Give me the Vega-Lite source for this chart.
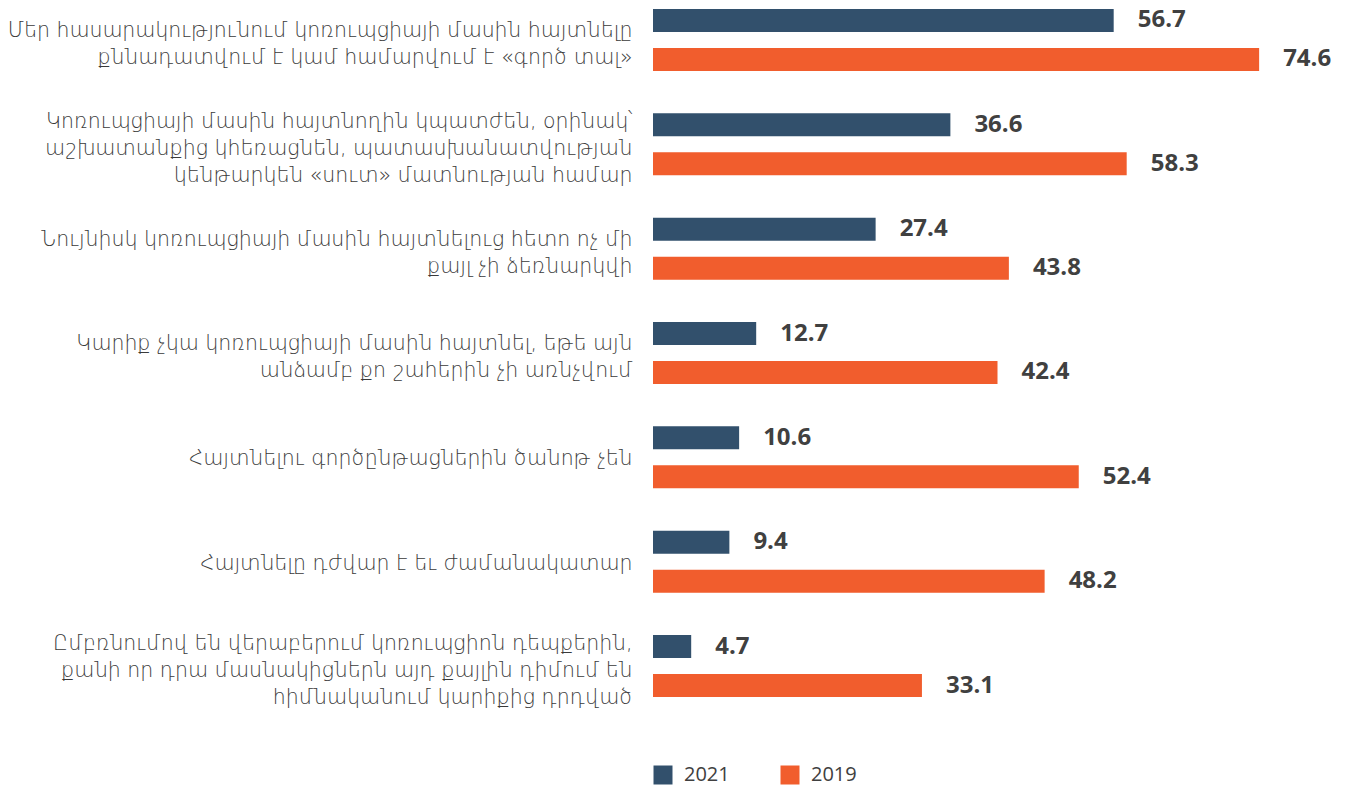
{
  "$schema": "https://vega.github.io/schema/vega-lite/v6.json",
  "autosize": {"type": "none"},
  "padding": {"left": 653, "top": 0, "right": 43, "bottom": 80},
  "width": 650,
  "height": 706,
  "background": "white",
  "config": {"view": {"stroke": null}},
  "data": {
    "values": [
      {"q": "Մեր հասարակությունում կոռուպցիայի մասին հայտնելը|քննադատվում է կամ համարվում է «գործ տալ»", "year": "2021", "v": 56.7},
      {"q": "Մեր հասարակությունում կոռուպցիայի մասին հայտնելը|քննադատվում է կամ համարվում է «գործ տալ»", "year": "2019", "v": 74.6},
      {"q": "Կոռուպցիայի մասին հայտնողին կպատժեն, օրինակ՝|աշխատանքից կհեռացնեն, պատասխանատվության|կենթարկեն «սուտ» մատնության համար", "year": "2021", "v": 36.6},
      {"q": "Կոռուպցիայի մասին հայտնողին կպատժեն, օրինակ՝|աշխատանքից կհեռացնեն, պատասխանատվության|կենթարկեն «սուտ» մատնության համար", "year": "2019", "v": 58.3},
      {"q": "Նույնիսկ կոռուպցիայի մասին հայտնելուց հետո ոչ մի|քայլ չի ձեռնարկվի", "year": "2021", "v": 27.4},
      {"q": "Նույնիսկ կոռուպցիայի մասին հայտնելուց հետո ոչ մի|քայլ չի ձեռնարկվի", "year": "2019", "v": 43.8},
      {"q": "Կարիք չկա կոռուպցիայի մասին հայտնել, եթե այն|անձամբ քո շահերին չի առնչվում", "year": "2021", "v": 12.7},
      {"q": "Կարիք չկա կոռուպցիայի մասին հայտնել, եթե այն|անձամբ քո շահերին չի առնչվում", "year": "2019", "v": 42.4},
      {"q": "Հայտնելու գործընթացներին ծանոթ չեն", "year": "2021", "v": 10.6},
      {"q": "Հայտնելու գործընթացներին ծանոթ չեն", "year": "2019", "v": 52.4},
      {"q": "Հայտնելը դժվար է եւ ժամանակատար", "year": "2021", "v": 9.4},
      {"q": "Հայտնելը դժվար է եւ ժամանակատար", "year": "2019", "v": 48.2},
      {"q": "Ըմբռնումով են վերաբերում կոռուպցիոն դեպքերին,|քանի որ դրա մասնակիցներն այդ քայլին դիմում են|հիմնականում կարիքից դրդված", "year": "2021", "v": 4.7},
      {"q": "Ըմբռնումով են վերաբերում կոռուպցիոն դեպքերին,|քանի որ դրա մասնակիցներն այդ քայլին դիմում են|հիմնականում կարիքից դրդված", "year": "2019", "v": 33.1}
    ]
  },
  "encoding": {
    "y": {
      "field": "q",
      "type": "nominal",
      "sort": null,
      "scale": {"paddingInner": 0.406, "paddingOuter": 0.086},
      "axis": {
        "title": null,
        "domain": false,
        "ticks": false,
        "labelPadding": 21,
        "labelFont": "DejaVu Sans",
        "labelFontWeight": 300,
        "labelFontSize": 20.5,
        "labelLineHeight": 27,
        "labelColor": "#3a3a3a",
        "labelLimit": 900,
        "labelOffset": {
          "condition": [
            {"test": "length(split(datum.label, '|')) == 3", "value": -22},
            {"test": "length(split(datum.label, '|')) == 2", "value": -9}
          ],
          "value": 2
        },
        "labelExpr": "split(datum.label, '|')"
      }
    },
    "yOffset": {
      "field": "year",
      "type": "nominal",
      "sort": ["2021", "2019"],
      "scale": {"paddingInner": 0.41, "paddingOuter": 0}
    },
    "x": {
      "field": "v",
      "type": "quantitative",
      "scale": {"domain": [0, 80], "nice": false},
      "axis": null
    }
  },
  "layer": [
    {
      "mark": {"type": "bar"},
      "encoding": {
        "color": {
          "field": "year",
          "type": "nominal",
          "scale": {"domain": ["2021", "2019"], "range": ["#32506C", "#F15D2D"]},
          "legend": {
            "title": null,
            "orient": "none",
            "direction": "horizontal",
            "legendX": 0,
            "legendY": 765,
            "symbolType": "square",
            "symbolSize": 361,
            "symbolStrokeWidth": 0,
            "symbolOpacity": 1,
            "labelFont": "Open Sans",
            "labelFontSize": 20,
            "labelColor": "#404040",
            "labelOffset": 11,
            "columnPadding": 50,
            "padding": 0
          }
        }
      }
    },
    {
      "mark": {"type": "text", "align": "left", "baseline": "middle", "dx": 24, "font": "Open Sans", "fontWeight": "bold", "fontSize": 24, "color": "#404040"},
      "encoding": {
        "text": {"field": "v", "type": "quantitative", "format": ".1f"}
      }
    }
  ]
}
